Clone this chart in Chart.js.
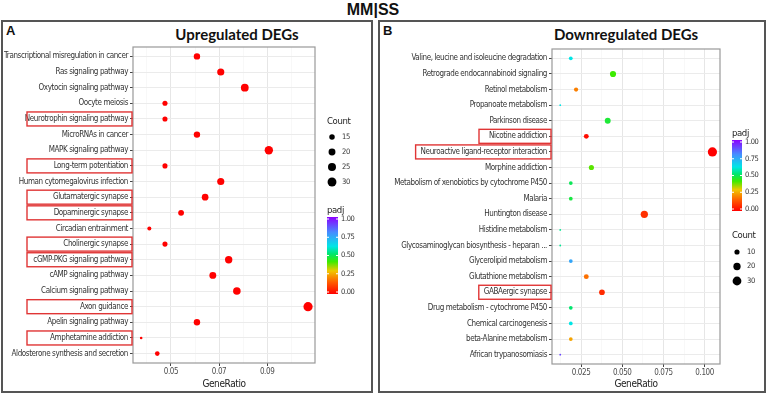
<!DOCTYPE html>
<html lang="en">
<head>
<meta charset="UTF-8">
<title>MM|SS</title>
<script src="https://cdn.jsdelivr.net/npm/chart.js"></script>
<style>
  body { margin: 0; width: 767px; height: 394px; background: #fff; position: relative; overflow: hidden; }
  #title { position: absolute; left: 0; top: 1px; width: 746px; text-align: center; font: bold 16px "Liberation Sans", Arial, sans-serif; color: #111; }
  .panel { position: absolute; top: 20px; height: 373px; border: 2px solid #555; box-sizing: border-box; }
  .letter { position: absolute; top: 23px; font: bold 13px "Liberation Sans", Arial, sans-serif; color: #111; }
  .ptitle { position: absolute; top: 25px; font: bold 15px Lato, "Open Sans", sans-serif; color: #111; transform: translateX(-50%); white-space: nowrap; }
  canvas { position: absolute; top: 20px; }
</style>
</head>
<body>
<div id="title">MM|SS</div>
<div class="panel" style="left:1px; width:372px;"></div>
<div class="panel" style="left:378px; width:388px;"></div>
<div class="letter" style="left:6px;">A</div>
<div class="letter" style="left:383px;">B</div>
<div class="ptitle" style="left:237px;">Upregulated DEGs</div>
<div class="ptitle" style="left:626px;">Downregulated DEGs</div>
<canvas id="upChart" width="370" height="372" style="left:2px;"></canvas>
<canvas id="downChart" width="386" height="372" style="left:379px;"></canvas>

<script>
// ---- Upregulated DEGs ----
const upCategories = [
  'Transcriptional misregulation in cancer', 'Ras signaling pathway', 'Oxytocin signaling pathway',
  'Oocyte meiosis', 'Neurotrophin signaling pathway', 'MicroRNAs in cancer', 'MAPK signaling pathway',
  'Long-term potentiation', 'Human cytomegalovirus infection', 'Glutamatergic synapse',
  'Dopaminergic synapse', 'Circadian entrainment', 'Cholinergic synapse', 'cGMP-PKG signaling pathway',
  'cAMP signaling pathway', 'Calcium signaling pathway', 'Axon guidance', 'Apelin signaling pathway',
  'Amphetamine addiction', 'Aldosterone synthesis and secretion'
];
const upGeneRatio = [0.0608, 0.0707, 0.0807, 0.0475, 0.0475, 0.0608, 0.0907, 0.0475, 0.0707, 0.0642,
                     0.0542, 0.0410, 0.0475, 0.0740, 0.0674, 0.0774, 0.1070, 0.0608, 0.0376, 0.0443];
const upCount = [18, 21, 24, 14, 14, 18, 27, 14, 21, 19, 16, 12, 14, 22, 20, 23, 32, 18, 11, 13];
const upPadj = [0.001, 0.001, 0.001, 0.002, 0.002, 0.001, 0.001, 0.002, 0.001, 0.001,
                0.001, 0.003, 0.002, 0.001, 0.001, 0.001, 0.001, 0.001, 0.004, 0.002];
const upHighlighted = ['Neurotrophin signaling pathway', 'Long-term potentiation', 'Glutamatergic synapse',
  'Dopaminergic synapse', 'Cholinergic synapse', 'cGMP-PKG signaling pathway', 'Axon guidance', 'Amphetamine addiction'];
const upXTicks = [0.05, 0.07, 0.09];
const upXMinor = [0.04, 0.06, 0.08, 0.10];
const upSizeBreaks = [15, 20, 25, 30];

// ---- Downregulated DEGs ----
const downCategories = [
  'Valine, leucine and isoleucine degradation', 'Retrograde endocannabinoid signaling', 'Retinol metabolism',
  'Propanoate metabolism', 'Parkinson disease', 'Nicotine addiction', 'Neuroactive ligand-receptor interaction',
  'Morphine addiction', 'Metabolism of xenobiotics by cytochrome P450', 'Malaria', 'Huntington disease',
  'Histidine metabolism', 'Glycosaminoglycan biosynthesis - heparan ...', 'Glycerolipid metabolism',
  'Glutathione metabolism', 'GABAergic synapse', 'Drug metabolism - cytochrome P450',
  'Chemical carcinogenesis', 'beta-Alanine metabolism', 'African trypanosomiasis'
];
const downGeneRatio = [0.0188, 0.0444, 0.0220, 0.0124, 0.0412, 0.0282, 0.1047, 0.0313, 0.0188, 0.0188,
                       0.0634, 0.0124, 0.0124, 0.0188, 0.0282, 0.0377, 0.0188, 0.0188, 0.0188, 0.0124];
const downCount = [6, 14, 7, 4, 13, 9, 33, 10, 6, 6, 20, 4, 4, 6, 9, 12, 6, 6, 6, 4];
const downPadj = [0.62, 0.42, 0.20, 0.62, 0.47, 0.02, 0.0, 0.40, 0.50, 0.48,
                  0.08, 0.55, 0.55, 0.75, 0.18, 0.07, 0.52, 0.62, 0.25, 0.90];
const downHighlighted = ['Nicotine addiction', 'Neuroactive ligand-receptor interaction', 'GABAergic synapse'];
const downXTicks = [0.025, 0.05, 0.075, 0.1];
const downXMinor = [0.0125, 0.0375, 0.0625, 0.0875];
const downSizeBreaks = [10, 20, 30];

const padjBreaks = [0, 0.25, 0.5, 0.75, 1];

// colour scale for padj (red -> purple)
const padjStops = [
  [0, [255, 0, 0]], [0.15, [255, 90, 0]], [0.3, [240, 200, 0]], [0.42, [60, 235, 0]],
  [0.52, [0, 230, 110]], [0.62, [0, 230, 230]], [0.8, [70, 140, 255]], [1, [140, 0, 255]]
];
function padjColour(v) {
  for (let i = 1; i < padjStops.length; i++) {
    const [p1, c1] = padjStops[i];
    const [p0, c0] = padjStops[i - 1];
    if (v <= p1) {
      const t = (v - p0) / (p1 - p0);
      const c = c0.map((a, k) => Math.round(a + (c1[k] - a) * t));
      return `rgb(${c[0]},${c[1]},${c[2]})`;
    }
  }
  return 'rgb(140,0,255)';
}

// ggplot-like area scale for point size
function sizeScale(counts, rmin, rmax) {
  const lo = Math.min(...counts), hi = Math.max(...counts);
  return c => rmin + Math.sqrt(Math.max(0, (c - lo) / (hi - lo))) * (rmax - rmin);
}

const labelFont = '"DejaVu Sans Condensed", "DejaVu Sans", sans-serif';
const LABEL_SIZE = 8;
const SPACING = '-0.4px';

// draws the plot frame, red boxes and the two legends
function makeDecor(o) {
  return {
    id: 'decor',
    beforeDraw(chart) { chart.ctx.letterSpacing = SPACING; },
    afterDraw(chart) {
      const ctx = chart.ctx;
      const a = chart.chartArea;
      const ys = chart.scales.y;
      ctx.save();
      ctx.letterSpacing = SPACING;

      // plot frame
      ctx.strokeStyle = '#999';
      ctx.lineWidth = 1.2;
      ctx.strokeRect(a.left, a.top, a.right - a.left, a.bottom - a.top);

      // red boxes round highlighted pathways
      ctx.strokeStyle = '#e03535';
      ctx.lineWidth = 1.4;
      ctx.font = LABEL_SIZE + 'px ' + labelFont;
      o.highlighted.forEach(name => {
        const i = o.categories.indexOf(name);
        const y = ys.getPixelForValue(i);
        const right = a.left - 1;
        let left;
        if (o.boxLeft != null) left = o.boxLeft;
        else left = Math.min(a.left - 5 - ctx.measureText(name).width - 5, right - 72);
        ctx.strokeRect(left, y - 7, right - left, 14);
      });

      // colour bar
      const cb = o.colourBar;
      ctx.fillStyle = '#222';
      ctx.font = '9.5px ' + labelFont;
      ctx.textBaseline = 'alphabetic';
      ctx.textAlign = 'left';
      ctx.fillText('padj', cb.x, cb.top - 4);
      const g = ctx.createLinearGradient(0, cb.bottom, 0, cb.top);
      padjStops.forEach(([p, c]) => g.addColorStop(p, `rgb(${c[0]},${c[1]},${c[2]})`));
      ctx.fillStyle = g;
      ctx.fillRect(cb.x, cb.top, cb.w, cb.bottom - cb.top);
      ctx.font = '7.5px ' + labelFont;
      ctx.textBaseline = 'middle';
      padjBreaks.forEach(v => {
        const y = cb.bottom - 2 - v * (cb.bottom - cb.top - 4);
        ctx.strokeStyle = '#fff';
        ctx.lineWidth = 1;
        ctx.beginPath();
        ctx.moveTo(cb.x, y); ctx.lineTo(cb.x + 2, y);
        ctx.moveTo(cb.x + cb.w - 2, y); ctx.lineTo(cb.x + cb.w, y);
        ctx.stroke();
        ctx.fillStyle = '#333';
        ctx.fillText(v.toFixed(2), cb.x + cb.w + 3, y);
      });

      // size legend
      const sl = o.sizeLegend;
      ctx.fillStyle = '#222';
      ctx.font = '9.5px ' + labelFont;
      ctx.textBaseline = 'alphabetic';
      ctx.fillText('Count', sl.x, sl.top);
      ctx.font = '7.5px ' + labelFont;
      ctx.textBaseline = 'middle';
      o.sizeBreaks.forEach((c, k) => {
        const y = sl.top + sl.first + k * sl.step;
        ctx.fillStyle = '#000';
        ctx.beginPath();
        ctx.arc(sl.dotX, y, o.radius(c), 0, Math.PI * 2);
        ctx.fill();
        ctx.fillStyle = '#333';
        ctx.fillText(String(c), sl.labelX, y);
      });
      ctx.restore();
    }
  };
}

function makeChart(id, o) {
  const n = o.categories.length;
  const allX = [...o.xTicks, ...o.xMinor].sort((p, q) => p - q);
  const isMajor = v => o.xTicks.some(t => Math.abs(t - v) < 1e-9);
  return new Chart(document.getElementById(id), {
    type: 'scatter',
    data: {
      datasets: [{
        data: o.ratio.map((x, i) => ({ x, y: i })),
        pointRadius: c => o.radius(o.count[c.dataIndex]),
        pointHoverRadius: c => o.radius(o.count[c.dataIndex]),
        pointBackgroundColor: c => padjColour(o.padj[c.dataIndex]),
        pointBorderWidth: 0
      }]
    },
    options: {
      responsive: false,
      animation: false,
      events: [],
      layout: { padding: { left: 0, top: o.area.top, right: o.width - o.area.right, bottom: 0 } },
      plugins: {
        legend: { display: false },
        tooltip: { enabled: false }
      },
      scales: {
        x: {
          type: 'linear',
          min: o.xMin,
          max: o.xMax,
          afterBuildTicks: s => { s.ticks = allX.map(v => ({ value: v })); },
          afterFit: s => { s.height = o.height - o.area.bottom; },
          ticks: {
            autoSkip: false, maxRotation: 0, padding: 1,
            font: { family: labelFont, size: LABEL_SIZE }, color: '#4d4d4d',
            callback: v => isMajor(v) ? v.toFixed(o.xDigits) : ''
          },
          grid: {
            color: c => isMajor(c.tick.value) ? '#e6e6e6' : '#f3f3f3',
            lineWidth: c => isMajor(c.tick.value) ? 1 : 0.6,
            tickColor: c => isMajor(c.tick.value) ? '#444' : 'rgba(0,0,0,0)',
            tickLength: 3
          },
          border: { display: false },
          title: { display: true, text: 'GeneRatio', color: '#222', padding: { top: 0, bottom: 2 },
                   font: { family: labelFont, size: 10 } }
        },
        y: {
          type: 'linear',
          reverse: true,
          min: -0.6,
          max: n - 0.4,
          afterBuildTicks: s => { s.ticks = o.categories.map((_, i) => ({ value: i })); },
          afterFit: s => { s.width = o.area.left; },
          ticks: {
            autoSkip: false, padding: 2,
            font: { family: labelFont, size: LABEL_SIZE }, color: '#333',
            callback: v => o.categories[v]
          },
          grid: { color: '#ebebeb', tickColor: '#444', tickLength: 3 },
          border: { display: false }
        }
      }
    },
    plugins: [makeDecor(o)]
  });
}

makeChart('upChart', {
  categories: upCategories, ratio: upGeneRatio, count: upCount, padj: upPadj,
  highlighted: upHighlighted, xTicks: upXTicks, xMinor: upXMinor, sizeBreaks: upSizeBreaks,
  xMin: 0.0342, xMax: 0.1099, xDigits: 2,
  radius: sizeScale(upCount, 1.3, 4.6),
  width: 370, height: 372,
  area: { left: 131, top: 27, right: 313, bottom: 343 },
  boxLeft: 25,
  colourBar: { x: 325, top: 197, bottom: 274, w: 11 },
  sizeLegend: { x: 325, top: 104, first: 13, step: 15, dotX: 330, labelX: 340 }
});

makeChart('downChart', {
  categories: downCategories, ratio: downGeneRatio, count: downCount, padj: downPadj,
  highlighted: downHighlighted, xTicks: downXTicks, xMinor: downXMinor, sizeBreaks: downSizeBreaks,
  xMin: 0.0074, xMax: 0.1093, xDigits: 3,
  radius: sizeScale(downCount, 0.9, 4.6),
  width: 386, height: 372,
  area: { left: 173, top: 29, right: 341, bottom: 344 },
  boxLeft: null,
  colourBar: { x: 353, top: 120, bottom: 191, w: 10 },
  sizeLegend: { x: 353, top: 218, first: 14, step: 14.5, dotX: 358, labelX: 368 }
});
</script>
</body>
</html>
